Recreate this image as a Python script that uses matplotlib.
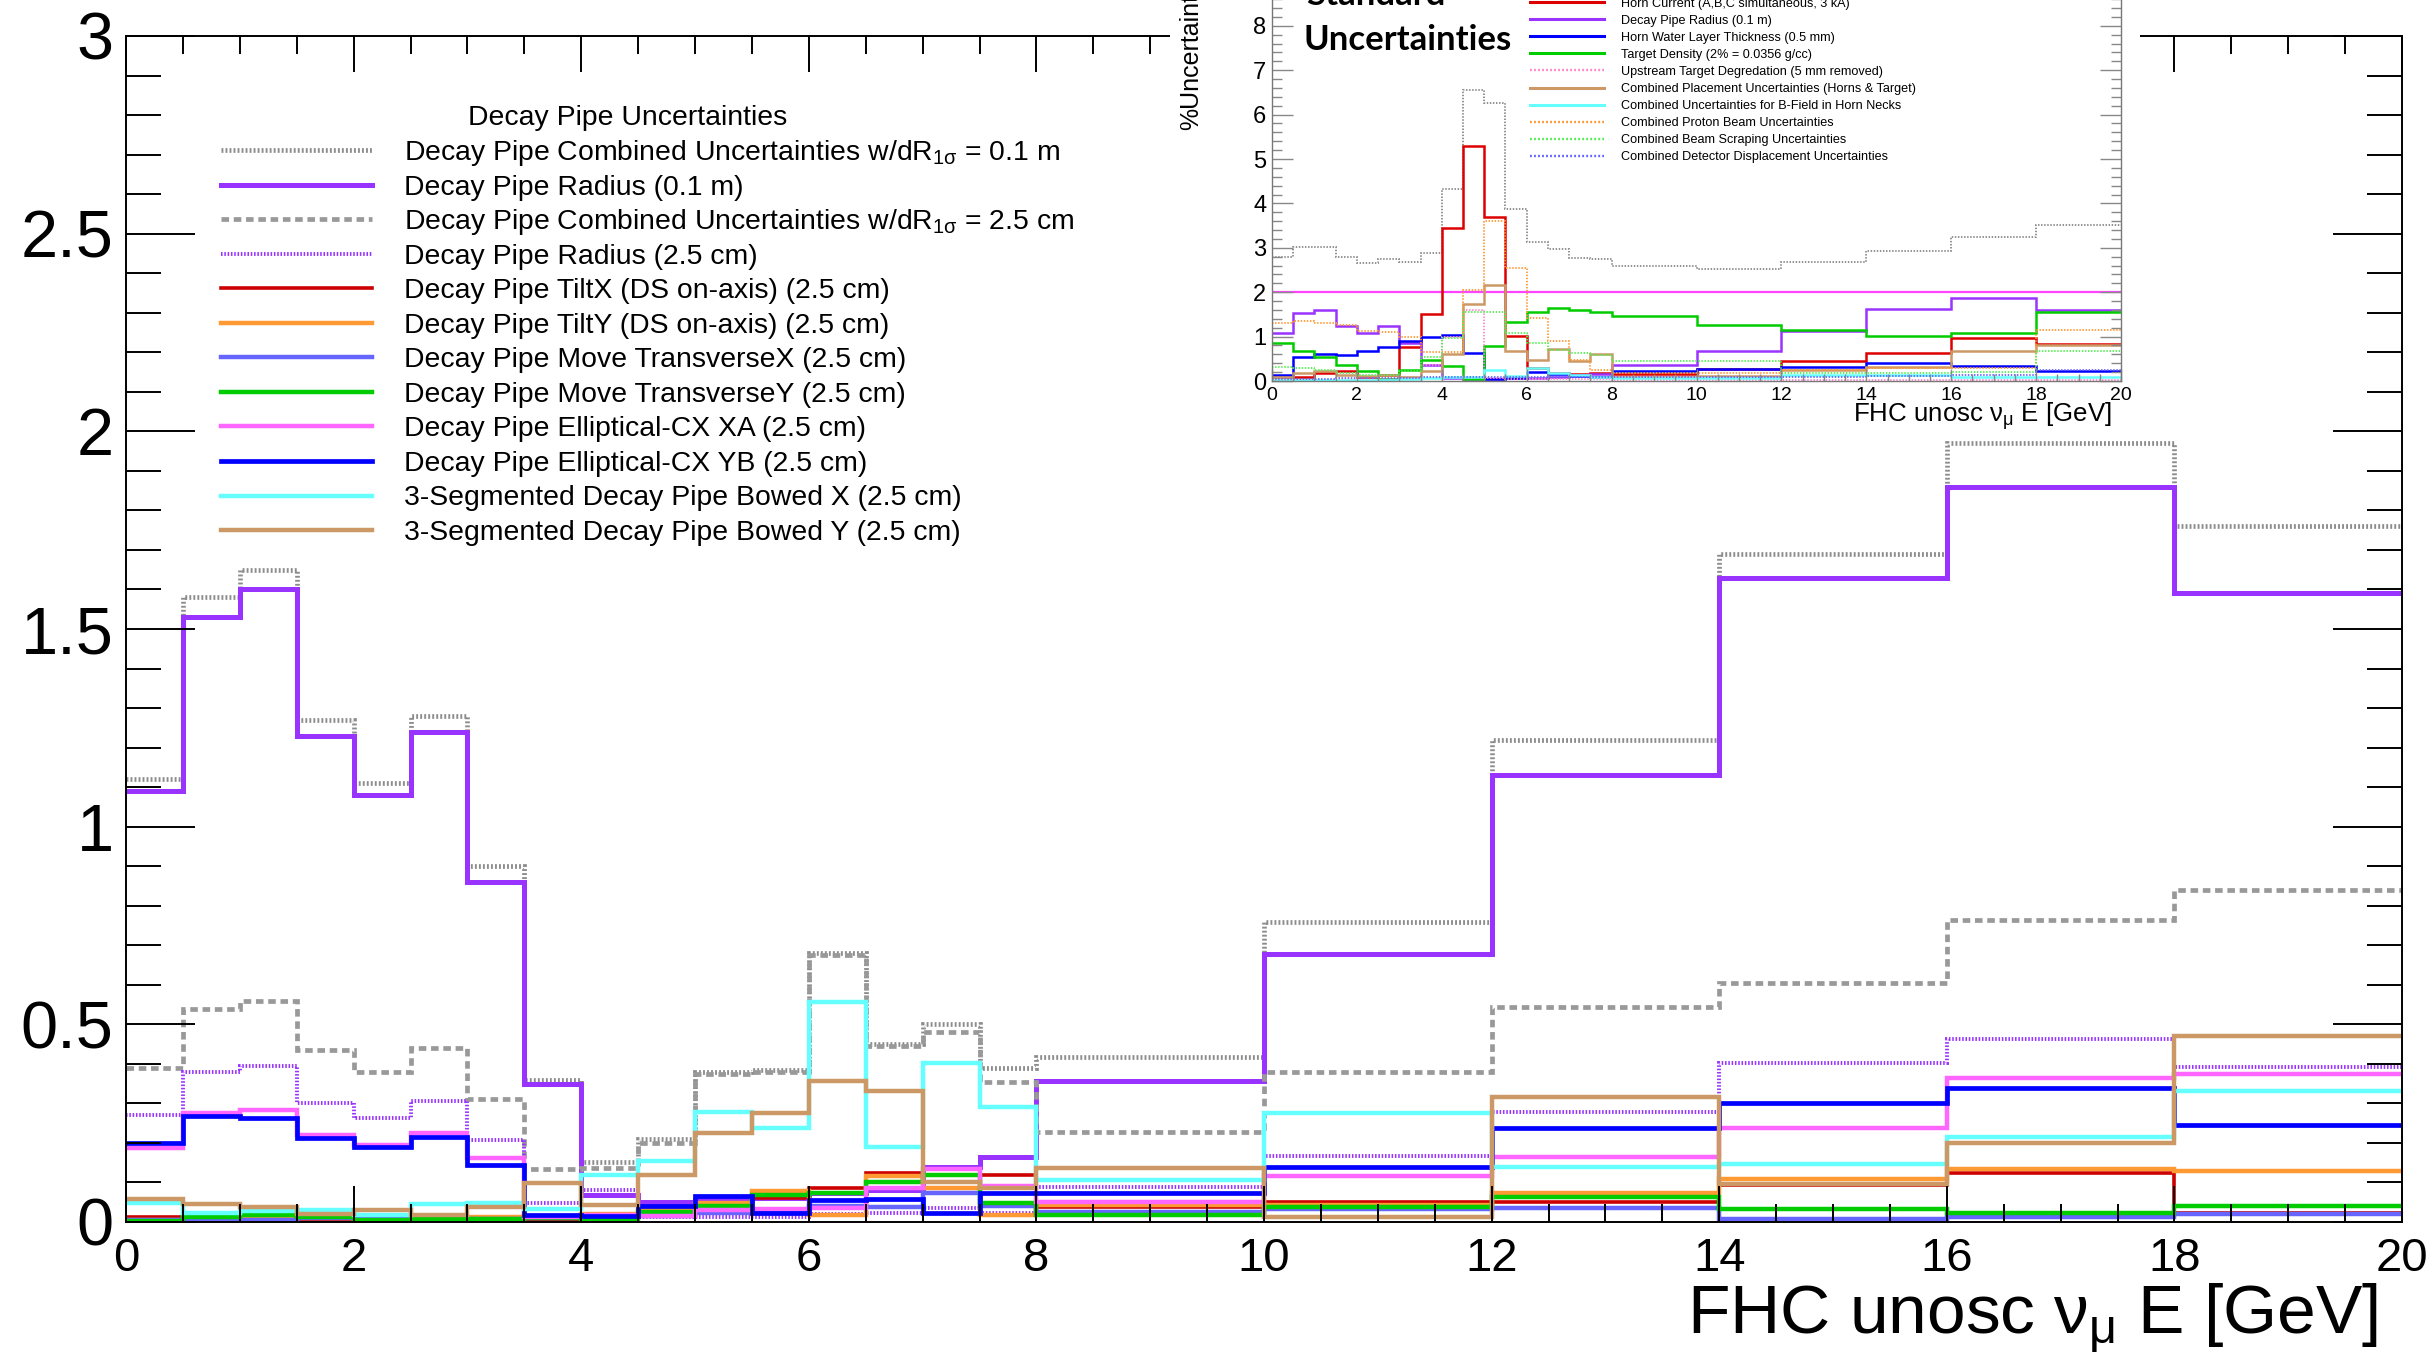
import numpy as np
import matplotlib.pyplot as plt
from matplotlib.lines import Line2D
from matplotlib.patches import Rectangle

# bin edges, GeV
edges = [0, 0.5, 1, 1.5, 2, 2.5, 3, 3.5, 4, 4.5, 5, 5.5, 6, 6.5, 7, 7.5, 8, 10, 12, 14, 16, 18, 20]

# main panel - decay pipe uncertainties (%)
comb_01m = [1.12, 1.58, 1.65, 1.27, 1.11, 1.28, 0.90, 0.36, 0.153, 0.21, 0.38, 0.385, 0.68, 0.45, 0.50, 0.39, 0.417, 0.76, 1.22, 1.69, 1.97, 1.76]
radius_01m = [1.09, 1.53, 1.60, 1.23, 1.08, 1.24, 0.86, 0.35, 0.068, 0.05, 0.056, 0.06, 0.073, 0.08, 0.14, 0.165, 0.357, 0.677, 1.13, 1.63, 1.86, 1.59]
comb_25cm = [0.39, 0.54, 0.56, 0.435, 0.38, 0.44, 0.31, 0.133, 0.136, 0.20, 0.375, 0.38, 0.675, 0.445, 0.48, 0.355, 0.228, 0.38, 0.543, 0.604, 0.764, 0.84]
radius_25cm = [0.27, 0.38, 0.395, 0.30, 0.263, 0.305, 0.207, 0.049, 0.081, 0.013, 0.013, 0.013, 0.02, 0.022, 0.035, 0.022, 0.089, 0.167, 0.279, 0.403, 0.462, 0.391]
tilt_x = [0.012, 0.005, 0.005, 0.004, 0.004, 0.002, 0.004, 0.005, 0.01, 0.035, 0.04, 0.06, 0.085, 0.123, 0.10, 0.119, 0.037, 0.051, 0.051, 0.094, 0.123, 0.024]
tilt_y = [0.005, 0.01, 0.008, 0.01, 0.005, 0.013, 0.012, 0.015, 0.02, 0.03, 0.047, 0.079, 0.018, 0.116, 0.085, 0.018, 0.043, 0.043, 0.073, 0.11, 0.133, 0.13]
move_x = [0.004, 0.005, 0.005, 0.01, 0.008, 0.006, 0.008, 0.01, 0.012, 0.015, 0.022, 0.024, 0.04, 0.037, 0.074, 0.04, 0.026, 0.032, 0.035, 0.008, 0.013, 0.02]
move_y = [0.003, 0.013, 0.018, 0.013, 0.005, 0.007, 0.008, 0.01, 0.008, 0.026, 0.04, 0.068, 0.073, 0.10, 0.12, 0.047, 0.018, 0.039, 0.062, 0.032, 0.024, 0.04]
ellip_xa = [0.186, 0.275, 0.283, 0.22, 0.195, 0.224, 0.163, 0.013, 0.018, 0.015, 0.03, 0.032, 0.035, 0.085, 0.133, 0.091, 0.05, 0.117, 0.165, 0.237, 0.365, 0.374]
ellip_yb = [0.20, 0.268, 0.264, 0.213, 0.19, 0.216, 0.144, 0.018, 0.015, 0.04, 0.066, 0.024, 0.056, 0.058, 0.024, 0.074, 0.074, 0.14, 0.237, 0.302, 0.338, 0.245]
bowed_x = [0.049, 0.024, 0.028, 0.03, 0.018, 0.045, 0.049, 0.032, 0.12, 0.155, 0.279, 0.239, 0.557, 0.189, 0.403, 0.29, 0.105, 0.275, 0.14, 0.147, 0.214, 0.331]
bowed_y = [0.058, 0.046, 0.039, 0.02, 0.03, 0.018, 0.039, 0.098, 0.043, 0.12, 0.224, 0.275, 0.357, 0.331, 0.102, 0.085, 0.137, 0.013, 0.315, 0.096, 0.199, 0.47]

main_labels = [
    r"Decay Pipe Combined Uncertainties w/dR$_{1\sigma}$ = 0.1 m",
    "Decay Pipe Radius (0.1 m)",
    r"Decay Pipe Combined Uncertainties w/dR$_{1\sigma}$ = 2.5 cm",
    "Decay Pipe Radius (2.5 cm)",
    "Decay Pipe TiltX (DS on-axis) (2.5 cm)",
    "Decay Pipe TiltY (DS on-axis) (2.5 cm)",
    "Decay Pipe Move TransverseX (2.5 cm)",
    "Decay Pipe Move TransverseY (2.5 cm)",
    "Decay Pipe Elliptical-CX XA (2.5 cm)",
    "Decay Pipe Elliptical-CX YB (2.5 cm)",
    "3-Segmented Decay Pipe Bowed X (2.5 cm)",
    "3-Segmented Decay Pipe Bowed Y (2.5 cm)",
]

# inset - standard uncertainties (%)
inset_total = [2.80, 3.01, 3.01, 2.80, 2.65, 2.75, 2.67, 2.88, 4.32, 6.55, 6.27, 3.87, 3.12, 2.97, 2.78, 2.75, 2.59, 2.53, 2.68, 2.92, 3.24, 3.51]
inset_pot = [2.0, 2.0, 2.0, 2.0, 2.0, 2.0, 2.0, 2.0, 2.0, 2.0, 2.0, 2.0, 2.0, 2.0, 2.0, 2.0, 2.0, 2.0, 2.0, 2.0, 2.0, 2.0]
horn_current = [0.08, 0.10, 0.19, 0.23, 0.08, 0.14, 0.76, 1.52, 3.44, 5.29, 3.70, 1.01, 0.30, 0.19, 0.16, 0.19, 0.16, 0.27, 0.46, 0.64, 0.97, 0.83]
water_layer = [0.14, 0.55, 0.61, 0.59, 0.68, 0.76, 0.89, 0.98, 1.04, 0.62, 0.04, 0.06, 0.21, 0.16, 0.11, 0.10, 0.23, 0.26, 0.32, 0.40, 0.34, 0.23]
target_density = [0.85, 0.68, 0.55, 0.36, 0.23, 0.04, 0.25, 0.47, 0.34, 0.04, 0.79, 1.34, 1.56, 1.64, 1.60, 1.56, 1.46, 1.26, 1.15, 1.01, 1.09, 1.56]
upstream_target = [0.03, 0.03, 0.03, 0.04, 0.04, 0.05, 0.10, 0.36, 0.98, 1.60, 0.06, 0.05, 0.05, 0.04, 0.04, 0.04, 0.03, 0.03, 0.03, 0.03, 0.03, 0.03]
placement = [0.10, 0.17, 0.23, 0.14, 0.11, 0.14, 0.10, 0.23, 0.61, 1.73, 2.16, 0.68, 0.47, 0.71, 0.45, 0.61, 0.10, 0.11, 0.25, 0.32, 0.68, 0.81]
bfield = [0.03, 0.03, 0.03, 0.03, 0.03, 0.03, 0.04, 0.06, 0.08, 0.08, 0.25, 0.11, 0.29, 0.19, 0.14, 0.10, 0.06, 0.06, 0.14, 0.14, 0.10, 0.10]
proton_beam = [1.31, 1.36, 1.31, 1.26, 1.13, 1.11, 0.98, 0.66, 0.66, 2.05, 3.61, 2.54, 1.41, 0.91, 0.47, 0.25, 0.17, 0.17, 0.25, 0.29, 0.29, 1.15]
beam_scraping = [0.32, 0.29, 0.25, 0.19, 0.14, 0.14, 0.23, 0.55, 0.96, 1.56, 1.56, 1.09, 0.86, 0.70, 0.64, 0.59, 0.46, 0.46, 0.17, 0.19, 0.21, 0.68]
detector_disp = [0.05, 0.05, 0.05, 0.06, 0.06, 0.06, 0.07, 0.08, 0.10, 0.10, 0.08, 0.08, 0.08, 0.08, 0.08, 0.08, 0.08, 0.08, 0.10, 0.12, 0.14, 0.25]

inset_labels = [
    "Horn Current (A,B,C simultaneous, 3 kA)",
    "Decay Pipe Radius (0.1 m)",
    "Horn Water Layer Thickness (0.5 mm)",
    "Target Density (2% = 0.0356 g/cc)",
    "Upstream Target Degredation (5 mm removed)",
    "Combined Placement Uncertainties (Horns & Target)",
    "Combined Uncertainties for B-Field in Horn Necks",
    "Combined Proton Beam Uncertainties",
    "Combined Beam Scraping Uncertainties",
    "Combined Detector Displacement Uncertainties",
]

font = 'Liberation Sans'
plt.rcParams['font.family'] = [font, 'DejaVu Sans']
plt.rcParams['mathtext.fontset'] = 'custom'
plt.rcParams['mathtext.rm'] = font
plt.rcParams['mathtext.it'] = font
plt.rcParams['mathtext.bf'] = font + ':bold'

W, H = 2432, 1353
def fx(x):
    return x / W
def fy(y):
    return 1 - y / H

FINE = (0, (0.4, 0.45))
COARSE = (0, (1.6, 1.0))
DOT = (0, (0.8, 0.9))

main_series = [comb_01m, radius_01m, comb_25cm, radius_25cm, tilt_x, tilt_y,
               move_x, move_y, ellip_xa, ellip_yb, bowed_x, bowed_y]
main_styles = [
    dict(color='#8c8c8c', lw=3.4, ls=FINE),
    dict(color='#9933ff', lw=3.6, ls='-'),
    dict(color='#999999', lw=3.4, ls=COARSE),
    dict(color='#9933ff', lw=2.8, ls=FINE),
    dict(color='#cc0000', lw=2.6, ls='-'),
    dict(color='#ff9933', lw=3.2, ls='-'),
    dict(color='#6666ff', lw=3.2, ls='-'),
    dict(color='#00cc00', lw=3.2, ls='-'),
    dict(color='#ff66ff', lw=3.2, ls='-'),
    dict(color='#0000ff', lw=3.4, ls='-'),
    dict(color='#66ffff', lw=3.2, ls='-'),
    dict(color='#cc9966', lw=3.2, ls='-'),
]

fig = plt.figure(figsize=(24.32, 13.53), dpi=100)

# ---- main panel
ax = fig.add_axes([fx(126), fy(1222), fx(2402) - fx(126), fy(36) - fy(1222)])
for vals, st in zip(main_series, main_styles):
    ax.stairs(vals, edges, baseline=None, color=st['color'], lw=st['lw'], linestyle=st['ls'])

ax.set_xlim(0, 20)
ax.set_ylim(0, 3)
ax.set_xticks(np.arange(0, 21, 2))
ax.set_xticks(np.arange(0, 20.01, 0.5), minor=True)
ax.set_yticks(np.arange(0, 3.01, 0.5))
ax.set_yticks(np.arange(0, 3.001, 0.1), minor=True)
ax.set_yticklabels(['0', '0.5', '1', '1.5', '2', '2.5', '3'])
for s in ax.spines.values():
    s.set_linewidth(1.4)
ax.tick_params(which='both', direction='in', top=True, right=True, width=1.4)
ax.tick_params(axis='y', which='major', length=50, labelsize=48, pad=9)
ax.tick_params(axis='y', which='minor', length=25)
ax.tick_params(axis='x', which='major', length=26, labelsize=34, pad=11)
ax.tick_params(axis='x', which='minor', length=13)

fig.text(fx(2378), fy(1333), r"FHC unosc $\nu_{\mu}$ E [GeV]", ha='right', va='baseline',
         fontsize=50)

# legend of main panel
fig.text(fx(628), fy(125), "Decay Pipe Uncertainties", ha='center', va='baseline', fontsize=20.4)
for i, (lab, st) in enumerate(zip(main_labels, main_styles)):
    y = 150 + 34.55 * i
    fig.add_artist(Line2D([fx(221), fx(372)], [fy(y), fy(y)], transform=fig.transFigure,
                          color=st['color'], lw=st['lw'], linestyle=st['ls']))
    fig.text(fx(404), fy(y + 10), lab, ha='left', va='baseline', fontsize=20.4)

# ---- inset (pasted picture of the standard uncertainties)
fig.add_artist(Rectangle((fx(1170), fy(437)), fx(2140) - fx(1170), fy(0) - fy(437) + 0.01,
                         transform=fig.transFigure, facecolor='white', edgecolor='none', zorder=2))

ax2 = fig.add_axes([fx(1272), fy(381), fx(2121) - fx(1272), fy(-63) - fy(381)], zorder=3)
inset_series = [inset_total, inset_pot, horn_current, radius_01m, water_layer, target_density,
                upstream_target, placement, bfield, proton_beam, beam_scraping, detector_disp]
inset_styles = [
    dict(color='#888888', lw=1.3, ls=DOT),
    dict(color='#ff44ff', lw=1.6, ls='-'),
    dict(color='#dd0000', lw=1.8, ls='-'),
    dict(color='#9933ff', lw=1.8, ls='-'),
    dict(color='#0000ff', lw=1.8, ls='-'),
    dict(color='#00cc00', lw=1.8, ls='-'),
    dict(color='#ff88cc', lw=1.3, ls=DOT),
    dict(color='#cc9966', lw=1.8, ls='-'),
    dict(color='#66ffff', lw=1.8, ls='-'),
    dict(color='#ff9933', lw=1.3, ls=DOT),
    dict(color='#55ee55', lw=1.3, ls=DOT),
    dict(color='#6666ff', lw=1.3, ls=DOT),
]
for vals, st in zip(inset_series, inset_styles):
    ax2.stairs(vals, edges, baseline=None, color=st['color'], lw=st['lw'], linestyle=st['ls'])

ax2.set_xlim(0, 20)
ax2.set_ylim(0, 10)
ax2.set_xticks(np.arange(0, 21, 2))
ax2.set_xticks(np.arange(0, 20.01, 0.5), minor=True)
ax2.set_yticks(np.arange(0, 11, 1))
ax2.set_yticks(np.arange(0, 10.01, 0.2), minor=True)
for s in ax2.spines.values():
    s.set_linewidth(1.0)
    s.set_color('#777777')
ax2.tick_params(which='both', direction='in', right=True, top=True, color='#888888', width=1.0)
ax2.tick_params(axis='y', which='major', length=15, labelsize=17, pad=4)
ax2.tick_params(axis='y', which='minor', length=7)
ax2.tick_params(axis='x', which='major', length=9, labelsize=14, pad=4)
ax2.tick_params(axis='x', which='minor', length=5)

fig.text(fx(1191), fy(130), "%Uncertainty", rotation=90, ha='center', va='bottom',
         fontsize=18, zorder=4)
fig.text(fx(2112), fy(422), r"FHC unosc $\nu_{\mu}$ E [GeV]", ha='right', va='baseline',
         fontsize=18.6, zorder=4)
fig.text(fx(1306), fy(5), "Standard", ha='left', va='baseline', fontsize=25,
         family='Lato', weight='bold', zorder=4)
fig.text(fx(1304), fy(50), "Uncertainties", ha='left', va='baseline', fontsize=25,
         family='Lato', weight='bold', zorder=4)

leg_styles = [inset_styles[i] for i in (2, 3, 4, 5, 6, 7, 8, 9, 10, 11)]
for i, (lab, st) in enumerate(zip(inset_labels, leg_styles)):
    y = 2 + 17.1 * i
    fig.add_artist(Line2D([fx(1530), fx(1604)], [fy(y), fy(y)], transform=fig.transFigure,
                          color=st['color'], lw=st['lw'] + 0.4, linestyle=st['ls'], zorder=4))
    fig.text(fx(1621), fy(y + 4.5), lab, ha='left', va='baseline', fontsize=9.1, zorder=4)

fig.savefig('out.png', dpi=100)
